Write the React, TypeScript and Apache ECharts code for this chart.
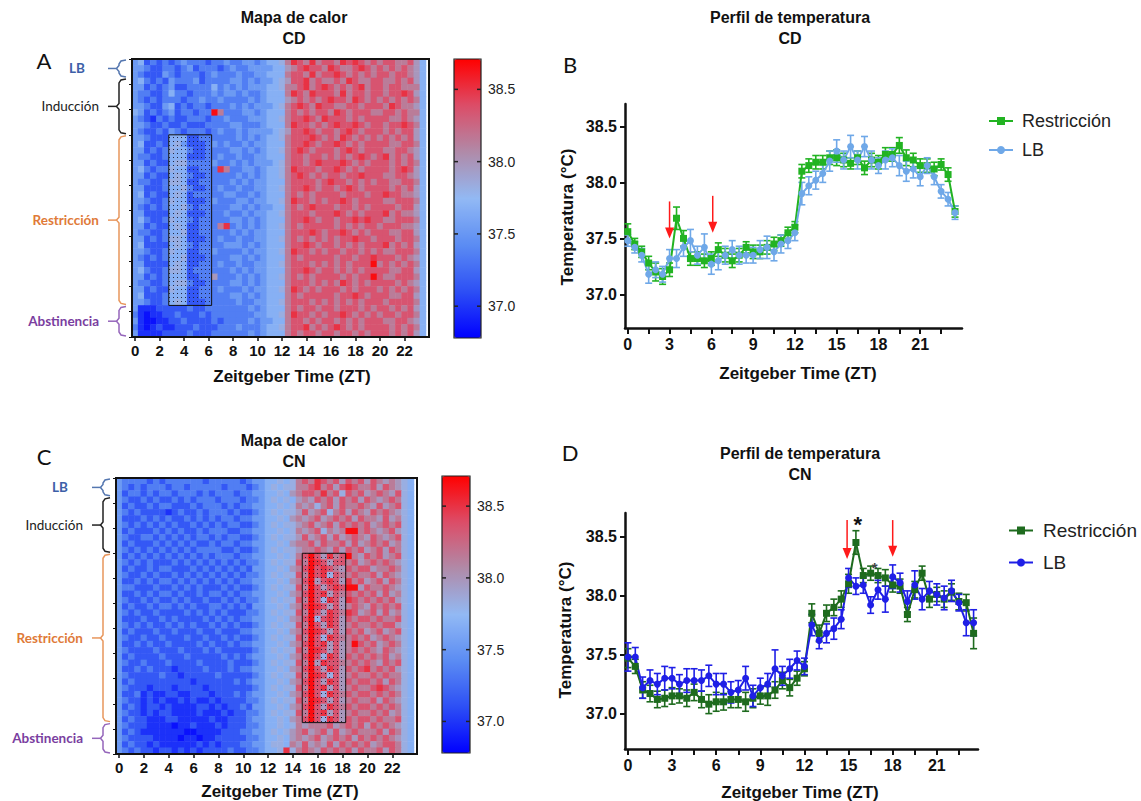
import React, { useEffect, useRef } from "react";
import * as echarts from "echarts";

// ---------- data ----------
const ZT_NUM = [0, 0.5, 1, 1.5, 2, 2.5, 3, 3.5, 4, 4.5, 5, 5.5, 6, 6.5, 7, 7.5, 8, 8.5, 9, 9.5, 10, 10.5, 11, 11.5,
  12, 12.5, 13, 13.5, 14, 14.5, 15, 15.5, 16, 16.5, 17, 17.5, 18, 18.5, 19, 19.5, 20, 20.5, 21, 21.5, 22, 22.5, 23, 23.5];
const ZT_CAT = ZT_NUM.map((v) => String(v));
const ROW_CAT = Array.from({ length: 44 }, (_, i) => "d" + (i + 1));

const X_TICKS = [0, 1.5, 3, 4.5, 6, 7.5, 9, 10.5, 12, 13.5, 15, 16.5, 18, 19.5, 21, 22.5];
const X_LABELS = [0, 3, 6, 9, 12, 15, 18, 21];
const Y_TICKS = [37.0, 37.5, 38.0, 38.5];
const CBAR_TICKS = [37.0, 37.5, 38.0, 38.5];

// heat-map level codes (each char = one half-hour cell)
const LEVEL: Record<string, number> = {
  "0": 36.85, "1": 36.98, "2": 37.15, "3": 37.35, "4": 37.52, "5": 37.68,
  "6": 37.82, "7": 37.98, "8": 38.14, "9": 38.35, a: 38.5, b: 38.66,
};

const HEAT_CD = [
  "45232323 43332334 33443455 68a98a89 98a9a989 89988975",
  "44322332 34233323 43344445 5789a998 a9889a98 98989875",
  "43222432 33323433 34334455 58998a89 9a989898 99899875",
  "45323243 33423333 44343445 6799a898 898a9889 98898975",
  "44232342 23333534 34344455 6889a89a 98989a89 98998885",
  "43322353 32333434 43433455 58a98a99 98a89989 9899a975",
  "43232333 23343343 33343455 57898989 a998a989 89898985",
  "44322452 32332333 43434445 689a98a9 98899899 98a98875",
  "54232342 33233b83 33443455 58989899 8a989998 89989885",
  "43213232 23332334 33344455 6899a98a 99989899 99889875",
  "44322322 32223333 44333455 58a99898 9a99a989 9899a985",
  "43223243 23332343 34344445 6799a989 989a9899 98989975",
  "44322255 52233333 34343455 68999a98 98a98989 89898975",
  "45223256 42223434 33434455 5899a989 9a989899 99889985",
  "44232365 53223333 44343455 689a9899 989a9899 98899875",
  "43322355 52223343 34334455 58998998 98989a98 9a898975",
  "44232256 63333433 43434445 689989a9 99a98989 99898985",
  "45323365 522333a8 33443455 68a99989 9a989899 9989a975",
  "44232256 53223333 34343455 689a9898 99899a99 98899875",
  "43322366 52233333 43434455 58999989 a9989898 99889985",
  "44222355 63223343 34334455 6899a989 989a9899 99898975",
  "45232256 52333334 43343455 58989899 99899989 9a998875",
  "44322365 52223433 34434455 68a99898 99a98999 98899985",
  "43232355 63233333 44343445 58989a99 98998989 99989975",
  "44222256 52223334 33434455 68999899 9a989899 9a898875",
  "45322365 53233333 44343455 5899a989 9899a9a9 98899985",
  "44232256 5223338a 34343455 68989999 98989899 89998875",
  "43322355 62233333 43434455 58999a98 99a98989 99889975",
  "44232366 52223343 34334455 68989898 9899a998 99989985",
  "45222256 53233334 44343455 5899a989 98989899 9a898975",
  "44322365 52233433 33434455 68a99898 99899898 98899985",
  "43232355 62223333 44343455 58989999 9899899a 99989875",
  "44222256 52233343 34334455 68999898 9898999b 89898985",
  "45322366 52333333 43434455 5899a989 98989899 99889975",
  "44232355 52233733 34343455 68989899 9989899b 98899985",
  "43322356 63223333 44343455 58999898 98a98989 99989875",
  "44232265 52233343 33434455 68a98989 99898999 89898985",
  "45222355 52233333 44343455 58989999 9899a989 99889975",
  "44322356 52223333 34334455 68999898 98989899 98999985",
  "41112222 23223333 33343455 58989989 98999898 99898975",
  "31011223 22232333 33334455 68a99898 99a98989 89989985",
  "41001122 32222323 33343445 58998989 98989899 98899875",
  "31012112 22322233 34333455 6899a898 9a989899 99898985",
  "41111222 23222333 33343455 58989989 98998989 99898975",
];

const HEAT_CN = [
  "43333232 33333323 33332344 55656898 a9897989 79878765",
  "43232333 23323333 32333234 56566889 a8979a98 89798765",
  "42332323 32333232 33323344 55657899 8a896989 78987965",
  "43223232 23232333 23332334 56565787 98979897 98789865",
  "42322323 32223233 32323344 55656878 68979889 87978965",
  "43232222 12322323 33232234 56566797 89689798 79898765",
  "42223232 32232323 23323344 55657878 97898979 88797865",
  "43232323 23223232 32332234 56566789 78979898 97898965",
  "42322232 32322323 33223344 55656878 96878bb8 98789765",
  "43223323 23232332 32332234 56566797 89797898 79878965",
  "42322232 32323223 23323344 55657889 79889797 89897865",
  "43232323 23232333 32232234 56566788 98797989 78979865",
  "42323232 32323232 33323344 5565689b 97a89b87 98978965",
  "43232322 23232323 23232334 5656698b a9799897 89898765",
  "42322323 32223232 32323244 5565789b 9a987989 97889865",
  "43223232 23232323 23232334 5656698b 9a698898 89798765",
  "42232323 32323232 32323344 5565789b 79a97a89 78979865",
  "43322232 23232322 23232234 5656698b 979a9bb7 98898765",
  "42232323 32322323 32323344 5565789b 9a798989 89797865",
  "43223232 23232232 23232334 5656698b 96a97a98 98989765",
  "42322323 32323223 32323244 5565789b a9797898 79898965",
  "43232232 22232323 23222334 5656698b 97a98a97 89797865",
  "42223223 23222232 32323344 5565789b 69a97989 98988965",
  "43232322 32323223 23232234 5656698b 97a97898 89899765",
  "42322232 23222322 32223344 5565789b a9797989 78978965",
  "43223223 22232232 23232234 5656698b 96a98898 97898765",
  "42232322 32222323 22323344 5565789b 9a7978b9 89789865",
  "43222232 22322232 32222234 5656698b a9797898 98798765",
  "42322223 22232222 23232344 5565789b 96a97989 89897865",
  "43223222 32222322 22322234 5656698b 7a998898 98798965",
  "42232322 21222232 22323344 5565789b 97a97989 a8989765",
  "43222223 22122222 32222234 5656698b a9697898 89898865",
  "42322222 22221222 22232344 5565789b 97a97989 98979865",
  "43222122 21222212 22222234 5656698b 9a797898 89a98765",
  "42231211 22112221 22232344 5565789b 96a98989 98989865",
  "43221212 11212112 12222334 5656698b a9797898 89798765",
  "42321221 21111221 21223244 5565789b 97a98989 98989865",
  "43221212 21111211 12122334 5656698b 9a797898 89897865",
  "42322111 22111112 11222344 5565789b 96a97989 98988965",
  "43222111 10112111 21222334 55656878 88978989 79898765",
  "42321111 11100111 12223344 56567897 89797898 88979865",
  "43222211 11011011 22222334 55657878 97898979 89898765",
  "42322121 11111212 12223344 56658797 87979898 97899865",
  "43232212 21212122 22322334 556a6898 79898979 88979865",
];

// temperature profiles (°C) and SEM
const CD_RESTRICCION = [37.56, 37.45, 37.38, 37.28, 37.2, 37.16, 37.22, 37.68, 37.5, 37.32, 37.32, 37.3,
  37.32, 37.4, 37.35, 37.3, 37.35, 37.42, 37.38, 37.38, 37.42, 37.45, 37.48, 37.55,
  37.6, 38.1, 38.15, 38.18, 38.18, 38.22, 38.22, 38.2, 38.17, 38.22, 38.13, 38.2,
  38.18, 38.25, 38.25, 38.33, 38.22, 38.2, 38.15, 38.15, 38.12, 38.16, 38.07, 37.74];
const CD_RESTRICCION_SEM = [0.07, 0.05, 0.05, 0.06, 0.08, 0.07, 0.06, 0.1,
  0.07, 0.06, 0.06, 0.06, 0.06, 0.06, 0.06, 0.06,
  0.06, 0.05, 0.06, 0.06, 0.06, 0.06, 0.05, 0.05,
  0.05, 0.06, 0.06, 0.06, 0.06, 0.06, 0.07, 0.06,
  0.05, 0.06, 0.06, 0.06, 0.06, 0.06, 0.06, 0.07,
  0.07, 0.06, 0.06, 0.06, 0.06, 0.05, 0.06, 0.05];
const CD_LB = [37.48, 37.42, 37.35, 37.18, 37.22, 37.18, 37.32, 37.32, 37.42, 37.48, 37.35, 37.42,
  37.27, 37.3, 37.35, 37.4, 37.35, 37.35, 37.35, 37.4, 37.42, 37.38, 37.45, 37.48,
  37.55, 37.9, 37.97, 38.02, 38.08, 38.19, 38.28, 38.2, 38.32, 38.2, 38.32, 38.2,
  38.15, 38.2, 38.22, 38.15, 38.1, 38.12, 38.05, 38.15, 38.05, 37.92, 37.85, 37.73];
const CD_LB_SEM = [0.05, 0.05, 0.06, 0.08, 0.07, 0.07, 0.08, 0.08,
  0.08, 0.1, 0.08, 0.12, 0.09, 0.08, 0.08, 0.08,
  0.08, 0.07, 0.07, 0.08, 0.1, 0.08, 0.08, 0.07,
  0.07, 0.1, 0.08, 0.08, 0.08, 0.09, 0.1, 0.08,
  0.1, 0.08, 0.09, 0.08, 0.07, 0.08, 0.08, 0.09,
  0.09, 0.08, 0.08, 0.07, 0.07, 0.06, 0.06, 0.06];

const CN_RESTRICCION = [37.47, 37.4, 37.2, 37.17, 37.12, 37.13, 37.15, 37.15, 37.13, 37.18, 37.12, 37.08,
  37.1, 37.1, 37.12, 37.12, 37.1, 37.13, 37.15, 37.15, 37.2, 37.28, 37.22, 37.3,
  37.38, 37.85, 37.68, 37.85, 37.9, 37.97, 38.1, 38.45, 38.17, 38.19, 38.17, 38.15,
  38.09, 38.08, 37.84, 38.05, 38.19, 37.97, 38.01, 37.97, 38.03, 37.95, 37.94, 37.68];
const CN_RESTRICCION_SEM = [0.08, 0.06, 0.07, 0.07, 0.07, 0.07, 0.07, 0.06,
  0.07, 0.07, 0.07, 0.08, 0.08, 0.07, 0.07, 0.07,
  0.08, 0.08, 0.07, 0.08, 0.07, 0.07, 0.07, 0.06,
  0.06, 0.08, 0.07, 0.07, 0.07, 0.07, 0.08, 0.1,
  0.06, 0.06, 0.06, 0.07, 0.06, 0.06, 0.06, 0.07,
  0.06, 0.07, 0.06, 0.07, 0.07, 0.07, 0.07, 0.13];
const CN_LB = [37.48, 37.48, 37.22, 37.28, 37.25, 37.3, 37.3, 37.25, 37.28, 37.28, 37.28, 37.32,
  37.25, 37.25, 37.18, 37.2, 37.3, 37.15, 37.22, 37.25, 37.38, 37.32, 37.38, 37.45,
  37.4, 37.75, 37.62, 37.68, 37.72, 37.8, 38.15, 38.08, 38.09, 37.92, 38.05, 37.97,
  38.16, 38.11, 37.95, 38.09, 37.97, 38.04, 38.01, 37.98, 38.04, 37.94, 37.77, 37.77];
const CN_LB_SEM = [0.12, 0.08, 0.09, 0.09, 0.09, 0.1, 0.09, 0.08,
  0.1, 0.1, 0.09, 0.09, 0.09, 0.09, 0.09, 0.08,
  0.1, 0.09, 0.08, 0.09, 0.16, 0.08, 0.08, 0.08,
  0.07, 0.09, 0.07, 0.08, 0.09, 0.08, 0.08, 0.07,
  0.07, 0.07, 0.08, 0.11, 0.1, 0.08, 0.09, 0.12,
  0.09, 0.08, 0.09, 0.1, 0.09, 0.07, 0.11, 0.11];

// annotations (data coordinates)
const BOX_CD = [6, 12, 12, 38]; // colStart,rowStart,colEnd,rowEnd
const BOX_CN = [30, 12, 36, 38];
const ARROWS_CD = [[3, 37.83, 37.5], [6.1, 37.88, 37.55]];
const ARROWS_CN = [[14.9, 38.64, 38.31], [18, 38.64, 38.33]];
const STARS_CN = [[15.62, 38.6, 22], [16.78, 38.24, 15]];

const PHASES = [
  { name: "LB", start: 0, end: 2, color: "#3d5fa8", line: "#5577b0", bold: true },
  { name: "Inducción", start: 3, end: 11, color: "#222222", line: "#222222", bold: false },
  { name: "Restricción", start: 12, end: 38, color: "#e07a38", line: "#e8965c", bold: true },
  { name: "Abstinencia", start: 39, end: 43, color: "#7a3ea0", line: "#9566bb", bold: true },
];

// ---------- layout ----------
const FONT = "'Liberation Sans', Arial, Helvetica, sans-serif";
const GA = { left: 132, top: 59, width: 294, height: 278 };
const GB = { left: 625, top: 104, width: 337, height: 224 };
const GC = { left: 116, top: 478, width: 298, height: 276 };
const GD = { left: 625, top: 513, width: 353, height: 236 };
const VMIN = 36.78, VMAX = 38.71;
const HEAT_COLORS = ["#0000ff", "#2d4ff5", "#5b8cf3", "#92b9f4", "#b08aa8", "#dc4d68", "#ff0000"];

function heatData(rows: string[]) {
  const out: number[][] = [];
  rows.forEach((r, yi) => {
    const s = r.replace(/\s/g, "");
    for (let xi = 0; xi < 48; xi++) out.push([xi, yi, LEVEL[s[xi]] ?? 37.5]);
  });
  return out;
}

export default function App() {
  const ref = useRef<HTMLDivElement>(null);
  useEffect(() => {
    if (!ref.current) return;
    const chart = echarts.init(ref.current, undefined, { renderer: "svg" });

    const cv = document.createElement("canvas");
    cv.width = 4; cv.height = 4;
    const ctx = cv.getContext("2d");
    if (ctx) { ctx.fillStyle = "rgba(25,25,45,0.9)"; ctx.fillRect(1, 1, 1, 1); }
    const dots: any = { image: cv, repeat: "repeat" };

    const heatX = (gi: number) => ({
      type: "category", gridIndex: gi, data: ZT_CAT,
      axisLine: { show: true, lineStyle: { color: "#111", width: 2 } },
      axisTick: { show: true, interval: 3, alignWithLabel: true, length: 4, lineStyle: { color: "#111", width: 1.5 } },
      axisLabel: { interval: 3, color: "#111", fontSize: 15, fontWeight: "bold", fontFamily: FONT, margin: 6 },
      splitLine: { show: false },
    });
    const heatY = (gi: number) => ({
      type: "category", gridIndex: gi, data: ROW_CAT, inverse: true,
      axisLine: { show: true, lineStyle: { color: "#111", width: 2 } },
      axisTick: { show: true, interval: 3, length: 3, lineStyle: { color: "#111" } },
      axisLabel: { show: false }, splitLine: { show: false },
    });
    const lineX = (gi: number, max: number) => ({
      type: "value", gridIndex: gi, min: -0.2, max,
      axisLine: { show: true, onZero: false, lineStyle: { color: "#111", width: 2.5 } },
      axisTick: { show: true, customValues: X_TICKS, length: 6, lineStyle: { color: "#111", width: 2 } },
      axisLabel: { customValues: X_LABELS, color: "#111", fontSize: 16, fontWeight: "bold", fontFamily: FONT, margin: 8 },
      splitLine: { show: false },
    });
    const lineY = (gi: number) => ({
      type: "value", gridIndex: gi, min: 36.7, max: 38.7,
      axisLine: { show: true, onZero: false, lineStyle: { color: "#111", width: 2.5 } },
      axisTick: { show: true, customValues: Y_TICKS, length: 5, lineStyle: { color: "#111", width: 2 } },
      axisLabel: { customValues: Y_TICKS, formatter: (v: number) => v.toFixed(1), color: "#111", fontSize: 16, fontWeight: "bold", fontFamily: FONT, margin: 8 },
      splitLine: { show: false },
    });

    const boxSeries = (gi: number, box: number[]) => ({
      type: "custom", xAxisIndex: gi, yAxisIndex: gi, z: 5, silent: true,
      data: [box],
      renderItem: (_p: any, api: any) => {
        const p0 = api.coord([api.value(0), api.value(1)]);
        const p1 = api.coord([api.value(2), api.value(3)]);
        const sz = api.size([1, 1]);
        const x = Math.min(p0[0], p1[0]) - sz[0] / 2;
        const y = Math.min(p0[1], p1[1]) - sz[1] / 2;
        return {
          type: "rect",
          shape: { x, y, width: Math.abs(p1[0] - p0[0]) + sz[0], height: Math.abs(p1[1] - p0[1]) + sz[1] },
          style: { fill: dots, stroke: "#111", lineWidth: 1 },
        };
      },
    });

    const errSeries = (gi: number, name: string, vals: number[], sem: number[], color: string) => ({
      type: "custom", name, xAxisIndex: gi, yAxisIndex: gi, z: 2, silent: true,
      data: ZT_NUM.map((x, i) => [x, vals[i] - sem[i], vals[i] + sem[i]]),
      renderItem: (_p: any, api: any) => {
        const hi = api.coord([api.value(0), api.value(2)]);
        const lo = api.coord([api.value(0), api.value(1)]);
        const w = 3.5;
        const st = { stroke: color, lineWidth: 1.6 };
        return {
          type: "group",
          children: [
            { type: "line", shape: { x1: hi[0], y1: hi[1], x2: lo[0], y2: lo[1] }, style: st },
            { type: "line", shape: { x1: hi[0] - w, y1: hi[1], x2: hi[0] + w, y2: hi[1] }, style: st },
            { type: "line", shape: { x1: lo[0] - w, y1: lo[1], x2: lo[0] + w, y2: lo[1] }, style: st },
          ],
        };
      },
    });

    const arrowSeries = (gi: number, arr: number[][]) => ({
      type: "custom", xAxisIndex: gi, yAxisIndex: gi, z: 6, silent: true,
      data: arr,
      renderItem: (_p: any, api: any) => {
        const a = api.coord([api.value(0), api.value(1)]);
        const b = api.coord([api.value(0), api.value(2)]);
        const hh = 11, hw = 4.5;
        return {
          type: "group",
          children: [
            { type: "line", shape: { x1: a[0], y1: a[1], x2: b[0], y2: b[1] - hh + 1 }, style: { stroke: "#ff1a1a", lineWidth: 1.5 } },
            { type: "polygon", shape: { points: [[b[0] - hw, b[1] - hh], [b[0] + hw, b[1] - hh], [b[0], b[1]]] }, style: { fill: "#ff1a1a" } },
          ],
        };
      },
    });

    const lineSeries = (gi: number, name: string, vals: number[], color: string, symbol: string, extra: any = {}) => ({
      type: "line", name, xAxisIndex: gi, yAxisIndex: gi, z: 4,
      data: ZT_NUM.map((x, i) => [x, vals[i]]),
      symbol, symbolSize: 7, showSymbol: true,
      lineStyle: { color, width: 2 }, itemStyle: { color },
      ...extra,
    });

    // ---- graphic (texts, frames, brackets) ----
    const g: any[] = [];
    const txt = (text: string, x: number, y: number, font: string, fill = "#111", align = "center", rot = 0) =>
      g.push({ type: "text", x, y, rotation: rot, silent: true,
        style: { text, font, fill, textAlign: align, textVerticalAlign: "middle" } });

    txt("A", 44, 60, "22px Lato");
    txt("B", 570, 64, "22px Lato");
    txt("C", 44, 456, "22px Lato");
    txt("D", 570, 452, "22px Lato");
    txt("Mapa de calor", 294, 17, `bold 16px ${FONT}`);
    txt("CD", 294, 38, `bold 16px ${FONT}`);
    txt("Perfil de temperatura", 790, 17, `bold 16px ${FONT}`);
    txt("CD", 790, 38, `bold 16px ${FONT}`);
    txt("Mapa de calor", 294, 440, `bold 16px ${FONT}`);
    txt("CN", 294, 461, `bold 16px ${FONT}`);
    txt("Perfil de temperatura", 800, 453, `bold 16px ${FONT}`);
    txt("CN", 800, 474, `bold 16px ${FONT}`);
    txt("Zeitgeber Time (ZT)", 292, 376, `bold 17px ${FONT}`);
    txt("Zeitgeber Time (ZT)", 798, 373, `bold 17px ${FONT}`);
    txt("Zeitgeber Time (ZT)", 280, 791, `bold 17px ${FONT}`);
    txt("Zeitgeber Time (ZT)", 800, 792, `bold 17px ${FONT}`);
    txt("Temperatura (°C)", 567, 217, `bold 17px ${FONT}`, "#111", "center", Math.PI / 2);
    txt("Temperatura (°C)", 565, 630, `bold 17px ${FONT}`, "#111", "center", Math.PI / 2);

    // heat map frames
    g.push({ type: "rect", silent: true, z: 10, shape: { x: GA.left, y: GA.top, width: 297, height: GA.height }, style: { fill: null, stroke: "#111", lineWidth: 2 } });
    g.push({ type: "rect", silent: true, z: 10, shape: { x: GC.left, y: GC.top, width: 301, height: GC.height }, style: { fill: null, stroke: "#111", lineWidth: 2 } });

    // colour bars
    const cbars = [
      { left: 454, top: 59, w: 27, h: 279 },
      { left: 442, top: 476, w: 28, h: 277 },
    ];
    cbars.forEach((c) => {
      g.push({ type: "rect", silent: true, z: 10, shape: { x: c.left, y: c.top, width: c.w, height: c.h }, style: { fill: null, stroke: "#222", lineWidth: 1.2 } });
      CBAR_TICKS.forEach((v) => {
        const y = c.top + ((VMAX - v) / (VMAX - VMIN)) * c.h;
        g.push({ type: "line", silent: true, z: 10, shape: { x1: c.left, y1: y, x2: c.left + 4, y2: y }, style: { stroke: "#222", lineWidth: 1.5 } });
        g.push({ type: "line", silent: true, z: 10, shape: { x1: c.left + c.w - 4, y1: y, x2: c.left + c.w, y2: y }, style: { stroke: "#222", lineWidth: 1.5 } });
        txt(v.toFixed(1), c.left + c.w + 7, y, `14px ${FONT}`, "#222", "left");
      });
    });

    // phase brackets
    const brackets = (grid: any, xv: number, labelX: number, lbLabelX: number) => {
      const rh = grid.height / 44;
      PHASES.forEach((p) => {
        const top = grid.top + p.start * rh + 1;
        const bot = grid.top + (p.end + 1) * rh - 1;
        const mid = (top + bot) / 2;
        g.push({ type: "polyline", silent: true,
          shape: { points: [[xv + 7, top], [xv + 2, top + 1], [xv, top + 4], [xv, mid - 3], [xv - 2.5, mid], [xv, mid + 3], [xv, bot - 4], [xv + 2, bot - 1], [xv + 7, bot]] },
          style: { stroke: p.line, lineWidth: 1.5, fill: null } });
        g.push({ type: "line", silent: true, shape: { x1: xv - 2.5, y1: mid, x2: xv - 11, y2: mid }, style: { stroke: p.line, lineWidth: 1.5 } });
        txt(p.name, p.name === "LB" ? lbLabelX : labelX, mid, `${p.bold ? "bold " : ""}13.5px Lato`, p.color, "right");
      });
    };
    brackets(GA, 119, 99, 85);
    brackets(GC, 103, 83, 68);

    const option: any = {
      animation: false,
      backgroundColor: "#ffffff",
      textStyle: { fontFamily: FONT },
      grid: [
        { ...GA, containLabel: false },
        { ...GB, containLabel: false },
        { ...GC, containLabel: false },
        { ...GD, containLabel: false },
      ],
      xAxis: [heatX(0), lineX(1, 24), heatX(2), lineX(3, 23.8)],
      yAxis: [heatY(0), lineY(1), heatY(2), lineY(3)],
      visualMap: [
        { type: "continuous", seriesIndex: 0, min: VMIN, max: VMAX, calculable: false, show: true, left: 454, top: 59, itemWidth: 27, itemHeight: 279, padding: 0, hoverLink: false, inRange: { color: HEAT_COLORS } },
        { type: "continuous", seriesIndex: 2, min: VMIN, max: VMAX, calculable: false, show: true, left: 442, top: 476, itemWidth: 28, itemHeight: 277, padding: 0, hoverLink: false, inRange: { color: HEAT_COLORS } },
      ],
      legend: [
        { left: 983, top: 107, orient: "vertical", itemWidth: 24, itemHeight: 10, itemGap: 11, data: ["Restricción", "LB"],
          textStyle: { fontSize: 18, color: "#222", fontFamily: FONT, padding: [0, 0, 0, 4] } },
        { left: 1003, top: 516, orient: "vertical", itemWidth: 24, itemHeight: 10, itemGap: 13, data: ["Restricción ", "LB "],
          formatter: (n: string) => n.trim(),
          textStyle: { fontSize: 19, color: "#222", fontFamily: FONT, padding: [0, 0, 0, 5] } },
      ],
      series: [
        { type: "heatmap", xAxisIndex: 0, yAxisIndex: 0, data: heatData(HEAT_CD), z: 2, silent: true },
        boxSeries(0, BOX_CD),
        { type: "heatmap", xAxisIndex: 2, yAxisIndex: 2, data: heatData(HEAT_CN), z: 2, silent: true },
        boxSeries(2, BOX_CN),
        errSeries(1, "err-cd-res", CD_RESTRICCION, CD_RESTRICCION_SEM, "#22b322"),
        errSeries(1, "err-cd-lb", CD_LB, CD_LB_SEM, "#6fa8e8"),
        lineSeries(1, "Restricción", CD_RESTRICCION, "#22b322", "rect"),
        lineSeries(1, "LB", CD_LB, "#6fa8e8", "circle"),
        arrowSeries(1, ARROWS_CD),
        errSeries(3, "err-cn-res", CN_RESTRICCION, CN_RESTRICCION_SEM, "#1e6b1e"),
        errSeries(3, "err-cn-lb", CN_LB, CN_LB_SEM, "#1f1fe6"),
        lineSeries(3, "Restricción ", CN_RESTRICCION, "#1e6b1e", "rect", {
          markPoint: {
            silent: true, symbol: "circle", symbolSize: 1, itemStyle: { color: "rgba(0,0,0,0)" },
            data: STARS_CN.map((s) => ({ coord: [s[0], s[1]], label: { show: true, position: "inside", formatter: "*", fontSize: s[2], fontWeight: "bold", color: s[2] > 18 ? "#111" : "#444" } })),
          },
        }),
        lineSeries(3, "LB ", CN_LB, "#1f1fe6", "circle"),
        arrowSeries(3, ARROWS_CN),
      ],
      graphic: g,
    };
    chart.setOption(option);
    return () => chart.dispose();
  }, []);
  return <div ref={ref} style={{ position: "absolute", left: 0, top: 0, width: 1141, height: 801, background: "#fff" }} />;
}
